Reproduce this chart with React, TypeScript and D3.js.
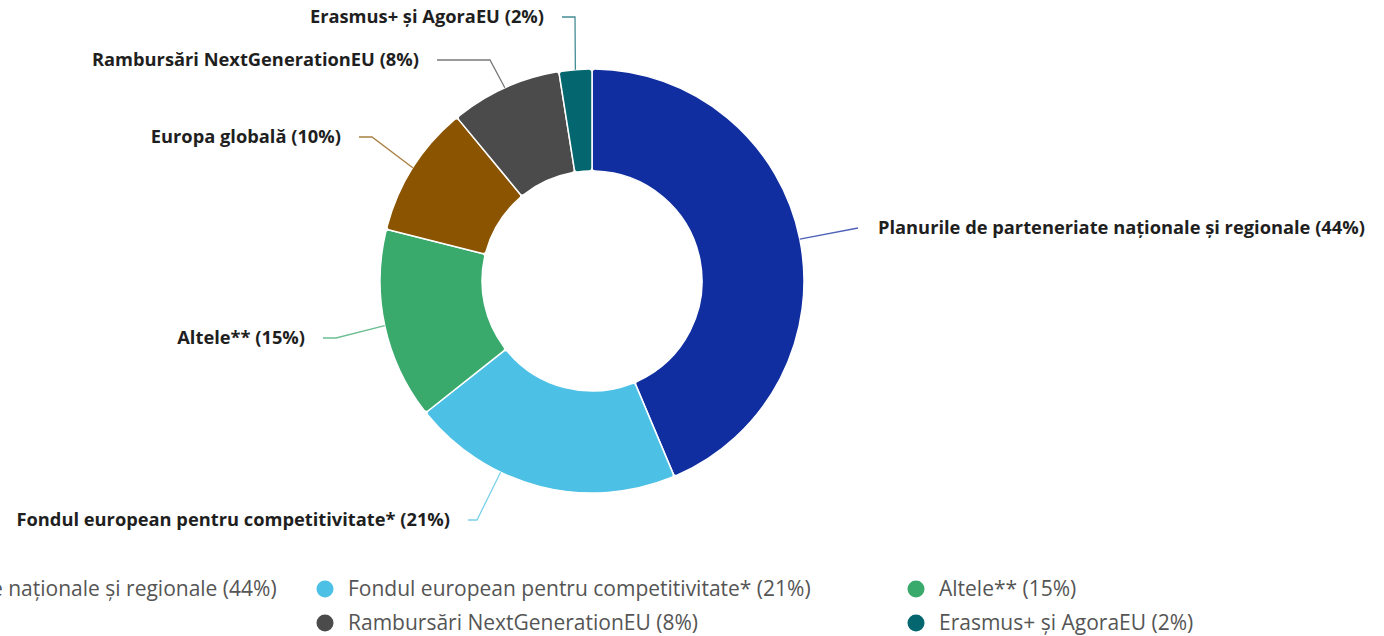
import React from "react";
import * as d3 from "d3";

// ---- data ----
const categories = [
  "Planurile de parteneriate naționale și regionale",
  "Fondul european pentru competitivitate*",
  "Altele**",
  "Europa globală",
  "Rambursări NextGenerationEU",
  "Erasmus+ și AgoraEU",
];
const values = [43.7, 20.7, 14.6, 10.1, 8.5, 2.5];
const percentLabels = ["44%", "21%", "15%", "10%", "8%", "2%"];
const colors = ["#112ea0", "#4dc0e5", "#39a96c", "#8a5400", "#4b4b4b", "#04666f"];

// ---- layout (label placement) ----
const labelY = [228, 520, 338, 137, 60, 17];
const lineEndX = [858, 468, 323, 359, 437, 562];
const elbowX = [858, 477, 336, 372, 490, 575];
const anchorT = [0.5, 0.65, 0.5, 0.5, 0.5, 0.5];
const legendColX = [-264, 325, 916];

const W = 1384;
const H = 636;
const cx = 592;
const cy = 281;
const outerR = 212;
const innerR = 110;

export default function App() {
  const pie = d3
    .pie<number>()
    .sort(null)
    .value((d) => d)(values);
  const arc = d3
    .arc<d3.PieArcDatum<number>>()
    .innerRadius(innerR)
    .outerRadius(outerR)
    .cornerRadius(3);

  const legendRow0 = 589;
  const legendRowH = 34;

  return (
    <svg
      width={W}
      height={H}
      style={{ position: "absolute", left: 0, top: 0, background: "#fff" }}
      fontFamily="'Open Sans', sans-serif"
    >
      <g transform={`translate(${cx},${cy})`}>
        {pie.map((p, i) => (
          <path
            key={i}
            d={arc(p) || ""}
            fill={colors[i]}
            stroke="#fff"
            strokeWidth={1.5}
          />
        ))}
      </g>
      {pie.map((p, i) => {
        const a = p.startAngle + (p.endAngle - p.startAngle) * anchorT[i];
        const ax = cx + outerR * Math.sin(a);
        const ay = cy - outerR * Math.cos(a);
        const right = Math.sin(a) > 0;
        const y = labelY[i];
        const pts: [number, number][] = [
          [ax, ay],
          [elbowX[i], y],
          [lineEndX[i], y],
        ];
        const line = d3.line()(pts) || "";
        const tx = right ? lineEndX[i] + 20 : lineEndX[i] - 18;
        return (
          <g key={i}>
            <path d={line} fill="none" stroke={colors[i]} strokeOpacity={0.75} strokeWidth={1.3} />
            <text
              x={tx}
              y={y}
              dy="0.35em"
              textAnchor={right ? "start" : "end"}
              fontSize={18.3}
              fontWeight={700}
              fill="#1f1f1f"
            >
              {`${categories[i]} (${percentLabels[i]})`}
            </text>
          </g>
        );
      })}
      {categories.map((c, i) => {
        const col = i % 3;
        const row = Math.floor(i / 3);
        const x = legendColX[col];
        const y = legendRow0 + row * legendRowH;
        return (
          <g key={i}>
            <circle cx={x} cy={y} r={8.5} fill={colors[i]} />
            <text x={x + 23} y={y} dy="0.35em" fontSize={21} fill="#555">
              {`${c} (${percentLabels[i]})`}
            </text>
          </g>
        );
      })}
    </svg>
  );
}
